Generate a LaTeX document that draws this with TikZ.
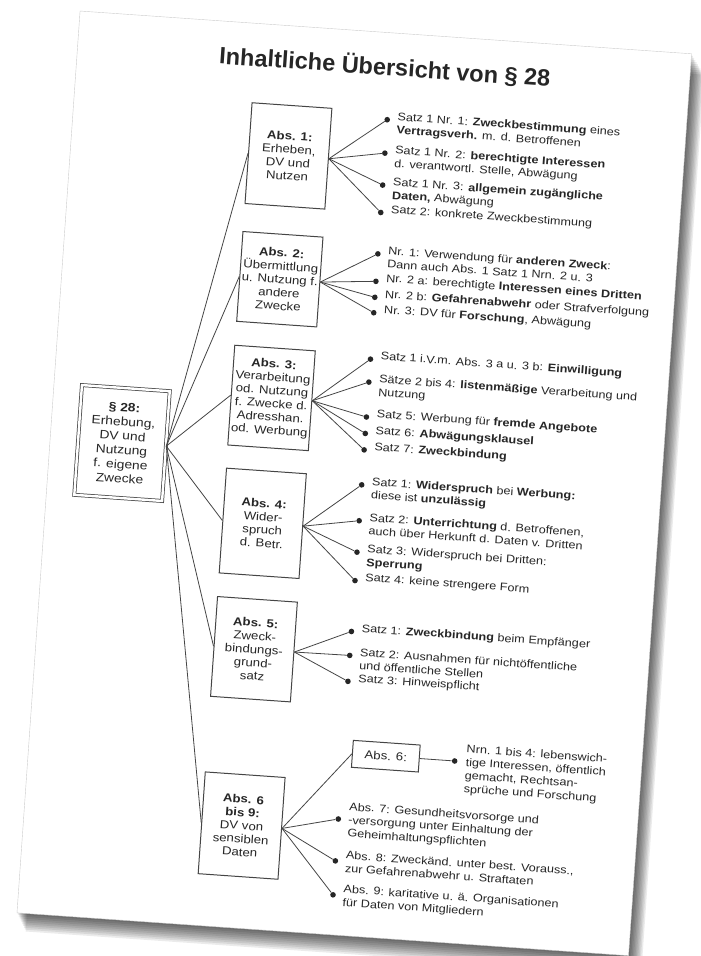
\documentclass[tikz,border=0pt]{standalone}
\usepackage{fontspec}
\setmainfont{Liberation Sans}[FakeStretch=1.15]
\newfontfamily\titlefont{Liberation Sans}
\usetikzlibrary{positioning}
\definecolor{inkgray}{HTML}{262626}
\definecolor{rulegray}{HTML}{454545}
\newcommand{\itemlines}[1]{\vtop{\lineskiplimit=-10pt
    \def\\{\egroup\hbox\bgroup}\hbox\bgroup#1\egroup}}

\begin{document}
\begin{tikzpicture}[
    x=1pt, y=-1pt,
    text=inkgray,
    absbox/.style={draw=rulegray, line width=1pt, fill=white, align=center,
                   minimum width=80pt, inner sep=2pt,
                   font=\fontsize{11.5}{13.3}\selectfont},
    mainbox/.style={absbox, double=white, double distance=2.4pt,
                    line width=0.75pt, minimum width=88pt, minimum height=110pt,
                    font=\fontsize{12}{14.3}\selectfont},
    itemdot/.style={circle, fill=inkgray, inner sep=0pt, minimum size=5.6pt},
    itemtext/.style={anchor=base west, inner sep=0pt,
                     font=\fontsize{11}{13.3}\selectfont},
    fan/.style={draw=rulegray, line width=0.8pt},
]
\useasboundingbox (0,0) rectangle (701,956);
\fill[white] (0,0) rectangle (701,956);

\begin{scope}[rotate around={-4:(350,480)}, transform shape]

% page with its shadow
\foreach \d in {2,4,...,20}
  \fill[black, opacity=0.08] (48+\d*0.5, 31+\d) rectangle (661+\d*0.7, 935+\d*0.9);
\fill[white, draw=black!20, line width=0.4pt] (48,31) rectangle (661,935);

% title
\node[font=\titlefont\bfseries\fontsize{23.5}{28}\selectfont] (title)
    at (356,65) {Inhaltliche Übersicht von § 28};

% main box
\node[mainbox] (par28) at (120,459)
    {\textbf{§ 28:}\\Erhebung,\\DV und\\Nutzung\\f. eigene\\Zwecke};

% Abs. boxes
\node[absbox, minimum height=101pt] (abs1) at (266,161)
    {\textbf{Abs. 1:}\\Erheben,\\DV und\\Nutzen};
\node[absbox, minimum height=90pt] (abs2) at (266,284.6)
    {\textbf{Abs. 2:}\\Übermittlung\\u. Nutzung f.\\andere\\Zwecke};
\node[absbox, minimum height=100pt] (abs3) at (266,403.6)
    {\textbf{Abs. 3:}\\Verarbeitung\\od. Nutzung\\f. Zwecke d.\\Adresshan.\\od. Werbung};
\node[absbox, minimum height=105pt] (abs4) at (266,529.3)
    {\textbf{Abs. 4:}\\Wider-\\spruch\\d. Betr.};
\node[absbox, minimum height=100pt] (abs5) at (266,655.5)
    {\textbf{Abs. 5:}\\Zweck-\\bindungs-\\grund-\\satz};
\node[absbox, minimum height=102pt] (abs69) at (266,832.3)
    {\textbf{Abs. 6}\\\textbf{bis 9:}\\DV von\\sensiblen\\Daten};
\node[absbox, minimum width=67pt, minimum height=27pt] (abs6) at (405,753)
    {Abs. 6:};

\foreach \b in {abs1,abs2,abs3,abs4,abs5,abs69}
  \draw[fan] (par28.east) -- (\b.west);

% Abs. 1
\foreach \n/\y in {1/118, 2/151.5, 3/183.5, 4/211} {
  \node[itemdot] (a1p\n) at (362,\y) {};
  \draw[fan] (abs1.east) -- (a1p\n);
}
\node[itemtext] (a1t1) at (372,118)
    {\itemlines{Satz 1 Nr. 1: \textbf{Zweckbestimmung} eines\\\textbf{Vertragsverh.} m. d. Betroffenen}};
\node[itemtext] (a1t2) at (372,151.5)
    {\itemlines{Satz 1 Nr. 2: \textbf{berechtigte Interessen}\\d. verantwortl. Stelle, Abwägung}};
\node[itemtext] (a1t3) at (372,183.5)
    {\itemlines{Satz 1 Nr. 3: \textbf{allgemein zugängliche}\\\textbf{Daten,} Abwägung}};
\node[itemtext] (a1t4) at (372,211) {Satz 2: konkrete Zweckbestimmung};

% Abs. 2
\foreach \n/\y in {1/252.5, 2/280, 3/296, 4/311.5} {
  \node[itemdot] (a2p\n) at (362,\y) {};
  \draw[fan] (abs2.east) -- (a2p\n);
}
\node[itemtext] (a2t1) at (372,252.5)
    {\itemlines{Nr. 1: Verwendung für \textbf{anderen Zweck}:\\Dann auch Abs. 1 Satz 1 Nrn. 2 u. 3}};
\node[itemtext] (a2t2) at (372,280)
    {Nr. 2 a: berechtigte \textbf{Interessen eines Dritten}};
\node[itemtext] (a2t3) at (372,296)
    {Nr. 2 b: \textbf{Gefahrenabwehr} oder Strafverfolgung};
\node[itemtext] (a2t4) at (372,311.5)
    {Nr. 3: DV für \textbf{Forschung}, Abwägung};

% Abs. 3
\foreach \n/\y in {1/358, 2/381, 3/416, 4/432.5, 5/449} {
  \node[itemdot] (a3p\n) at (362,\y) {};
  \draw[fan] (abs3.east) -- (a3p\n);
}
\node[itemtext] (a3t1) at (372,358)
    {Satz 1 i.V.m. Abs. 3 a u. 3 b: \textbf{Einwilligung}};
\node[itemtext] (a3t2) at (372,381)
    {\itemlines{Sätze 2 bis 4: \textbf{listenmäßige} Verarbeitung und\\Nutzung}};
\node[itemtext] (a3t3) at (372,416)
    {Satz 5: Werbung für \textbf{fremde Angebote}};
\node[itemtext] (a3t4) at (372,432.5)
    {Satz 6: \textbf{Abwägungsklausel}};
\node[itemtext] (a3t5) at (372,449)
    {Satz 7: \textbf{Zweckbindung}};

% Abs. 4
\foreach \n/\y in {1/484, 2/520, 3/551.5, 4/580} {
  \node[itemdot] (a4p\n) at (362,\y) {};
  \draw[fan] (abs4.east) -- (a4p\n);
}
\node[itemtext] (a4t1) at (372,484)
    {\itemlines{Satz 1: \textbf{Widerspruch} bei \textbf{Werbung:}\\diese ist \textbf{unzulässig}}};
\node[itemtext] (a4t2) at (372,520)
    {\itemlines{Satz 2: \textbf{Unterrichtung} d. Betroffenen,\\auch über Herkunft d. Daten v. Dritten}};
\node[itemtext] (a4t3) at (372,551.5)
    {\itemlines{Satz 3: Widerspruch bei Dritten:\\\textbf{Sperrung}}};
\node[itemtext] (a4t4) at (372,580)
    {Satz 4: keine strengere Form};

% Abs. 5
\foreach \n/\y in {1/631, 2/655, 3/681} {
  \node[itemdot] (a5p\n) at (362,\y) {};
  \draw[fan] (abs5.east) -- (a5p\n);
}
\node[itemtext] (a5t1) at (372,631)
    {Satz 1: \textbf{Zweckbindung} beim Empfänger};
\node[itemtext] (a5t2) at (372,655)
    {\itemlines{Satz 2: Ausnahmen für nichtöffentliche\\und öffentliche Stellen}};
\node[itemtext] (a5t3) at (372,681)
    {Satz 3: Hinweispflicht};

% Abs. 6 bis 9
\draw[fan] (abs69.east) -- (abs6.west);
\node[itemdot] (a6p) at (474,753) {};
\draw[fan] (abs6.east) -- (a6p);
\node[itemtext] (a6t) at (485,744)
    {\itemlines{Nrn. 1 bis 4: lebenswich-\\tige Interessen, öffentlich\\gemacht, Rechtsan-\\sprüche und Forschung}};
\foreach \n/\y in {7/819, 8/861, 9/895} {
  \node[itemdot] (a69p\n) at (362,\y) {};
  \draw[fan] (abs69.east) -- (a69p\n);
}
\node[itemtext] (a7t) at (372,809.7)
    {\itemlines{Abs. 7: Gesundheitsvorsorge und\\-versorgung unter Einhaltung der\\Geheimhaltungspflichten}};
\node[itemtext] (a8t) at (372,858.3)
    {\itemlines{Abs. 8: Zweckänd. unter best. Vorauss.,\\zur Gefahrenabwehr u. Straftaten}};
\node[itemtext] (a9t) at (372,892.3)
    {\itemlines{Abs. 9: karitative u. ä. Organisationen\\für Daten von Mitgliedern}};

\end{scope}
\end{tikzpicture}
\end{document}
